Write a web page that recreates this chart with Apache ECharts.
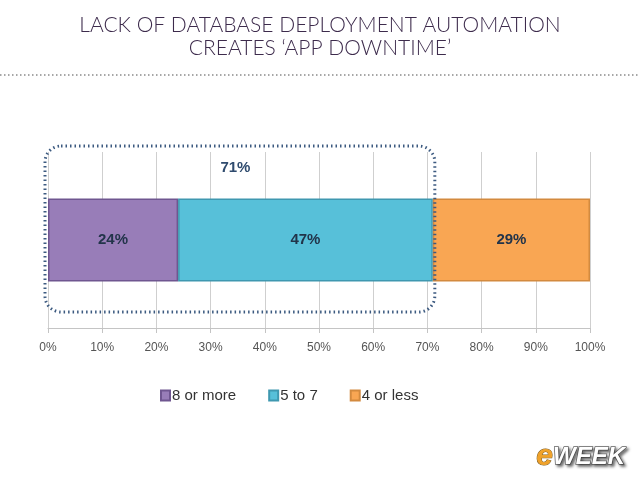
<!DOCTYPE html>
<html>
<head>
<meta charset="utf-8">
<script src="https://cdn.jsdelivr.net/npm/echarts@6/dist/echarts.min.js"></script>
<style>
  html, body { margin: 0; padding: 0; background: #fff; }
  #chart { width: 640px; height: 480px; }
</style>
</head>
<body>
<div id="chart"></div>
<script>
// data
var categories = ['Downtime'];
var seriesNames = ['8 or more', '5 to 7', '4 or less'];
var seriesValues = [[24], [47], [29]];
var seriesColors = ['#987db8', '#57c0d9', '#f9a653'];
var borderColors = ['#6f5690', '#3f98b0', '#d38a3f'];
var tickLabels = ['0%', '10%', '20%', '30%', '40%', '50%', '60%', '70%', '80%', '90%', '100%'];
var groupTotal = seriesValues[0][0] + seriesValues[1][0]; // 71

var myChart = echarts.init(document.getElementById('chart'));

var series = seriesNames.map(function (name, i) {
    return {
        name: name,
        type: 'bar',
        stack: 'all',
        barWidth: 83,
        data: seriesValues[i],
        itemStyle: {
            color: seriesColors[i],
            borderColor: borderColors[i],
            borderWidth: 1.5
        },
        label: {
            show: true,
            position: 'inside',
            formatter: '{c}%',
            color: '#22344a',
            fontWeight: 'bold',
            fontSize: 15,
            fontFamily: 'Liberation Sans'
        }
    }
});

var option = {
    backgroundColor: '#fff',
    animation: false,
    title: {
        text: 'LACK OF DATABASE DEPLOYMENT AUTOMATION\nCREATES \u2018APP DOWNTIME\u2019',
        left: 'center',
        top: 9,
        textStyle: {
            color: '#3d2b4c',
            fontSize: 21,
            fontWeight: 300,
            fontFamily: 'Lato',
            lineHeight: 23
        }
    },
    legend: {
        data: seriesNames,
        bottom: 72,
        left: 155,
        itemWidth: 9,
        itemHeight: 10,
        itemGap: 32,
        icon: 'rect',
        textStyle: {
            color: '#333',
            fontSize: 15,
            fontFamily: 'Liberation Sans',
            padding: [0, 0, 0, -3]
        }
    },
    grid: {
        left: 48,
        right: 50,
        top: 152,
        bottom: 152
    },
    xAxis: {
        type: 'value',
        min: 0,
        max: 100,
        interval: 10,
        axisLine: { show: true, lineStyle: { color: '#c4c4c4' } },
        axisTick: { show: true, length: 5, lineStyle: { color: '#c4c4c4' } },
        splitLine: { show: true, lineStyle: { color: '#cfcfcf' } },
        axisLabel: {
            color: '#555',
            fontSize: 12,
            fontFamily: 'Liberation Sans',
            margin: 14,
            formatter: function (v) { return tickLabels[Math.round(v / 10)]; }
        }
    },
    yAxis: {
        type: 'category',
        data: categories,
        axisLine: { show: false },
        axisTick: { show: false },
        axisLabel: { show: false }
    },
    series: series
};

myChart.setOption(option);

// dotted box round the first two segments and their total
var x0 = myChart.convertToPixel({ xAxisIndex: 0 }, 0);
var x1 = myChart.convertToPixel({ xAxisIndex: 0 }, groupTotal);

myChart.setOption({
    graphic: [
        {
            type: 'rect',
            shape: { x: x0 - 3, y: 146, width: x1 - x0 + 5, height: 166, r: 16 },
            style: {
                fill: 'none',
                stroke: '#3c5a80',
                lineWidth: 3,
                lineDash: [1.5, 3]
            },
            z: 100
        },
        {
            type: 'text',
            x: (x0 + x1) / 2 - 5,
            y: 168,
            style: {
                text: groupTotal + '%',
                fill: '#2f4b6e',
                fontSize: 15,
                fontWeight: 'bold',
                fontFamily: 'Liberation Sans',
                align: 'center',
                verticalAlign: 'middle'
            },
            z: 100
        },
        {
            type: 'line',
            shape: { x1: 0, y1: 75, x2: 640, y2: 75 },
            style: { stroke: '#8a8a8a', lineWidth: 1.5, lineDash: [1.5, 2.5] }
        },
        {
            type: 'text',
            x: 625,
            y: 457,
            style: {
                text: '{e|e}{w|WEEK}',
                align: 'right',
                verticalAlign: 'middle',
                rich: {
                    e: {
                        fontSize: 30,
                        fontWeight: 'bold',
                        fontStyle: 'italic',
                        fontFamily: 'Liberation Sans',
                        fill: '#f0a22a',
                        stroke: '#7a5a20',
                        lineWidth: 1
                    },
                    w: {
                        fontSize: 24,
                        fontWeight: 'bold',
                        fontStyle: 'italic',
                        fontFamily: 'Liberation Sans',
                        fill: '#ffffff',
                        stroke: '#666',
                        lineWidth: 1.5,
                        textShadowColor: 'rgba(0,0,0,0.5)',
                        textShadowBlur: 3,
                        textShadowOffsetX: 2,
                        textShadowOffsetY: 2
                    }
                }
            }
        }
    ]
});

window.onresize = function () {
    myChart.resize();
};
</script>
</body>
</html>
